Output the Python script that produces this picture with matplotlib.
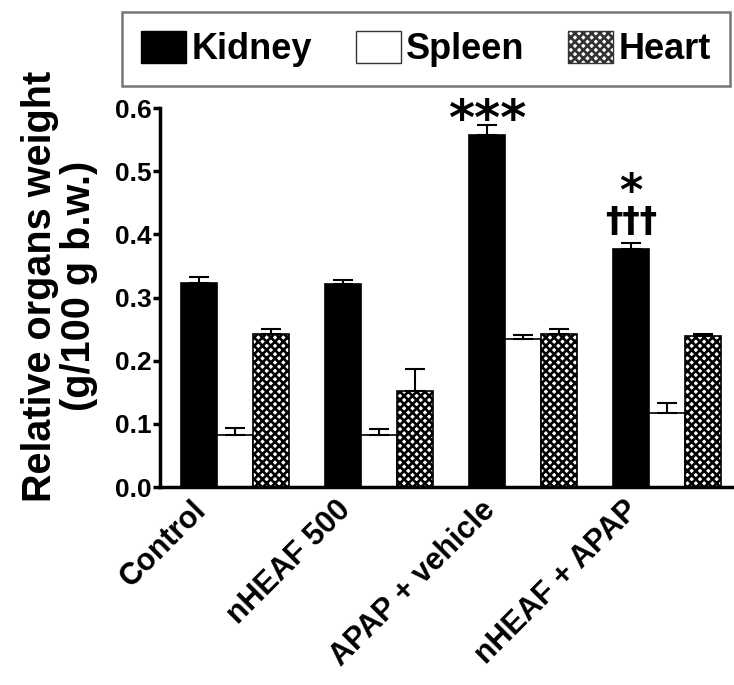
import matplotlib
matplotlib.use("Agg")
import matplotlib.pyplot as plt
import numpy as np
from matplotlib.patches import Patch

plt.rcParams['font.family'] = ['Liberation Sans', 'DejaVu Sans']
plt.rcParams['font.weight'] = 'bold'
plt.rcParams['hatch.linewidth'] = 1.9

groups = ["Control", "nHEAF 500", "APAP + vehicle", "nHEAF + APAP"]
organs = ["Kidney", "Spleen", "Heart"]

kidney = [0.323, 0.321, 0.558, 0.377]
kidney_err = [0.010, 0.007, 0.016, 0.009]
spleen = [0.082, 0.082, 0.235, 0.118]
spleen_err = [0.012, 0.010, 0.006, 0.015]
heart = [0.243, 0.152, 0.242, 0.239]
heart_err = [0.008, 0.035, 0.009, 0.004]

fig = plt.figure(figsize=(7.34, 6.85), dpi=100)
ax = fig.add_axes([0.218, 0.289, 0.782, 0.553])

x = np.arange(len(groups))
w = 0.25
err_kw = dict(ecolor="black", elinewidth=1.5, capsize=7, capthick=1.5)
zeros = np.zeros(len(groups))
checker = "xxxx"

ax.bar(x - w, kidney, w, color="black", edgecolor="black", linewidth=1.2,
       yerr=[zeros, kidney_err], error_kw=err_kw, zorder=2)
ax.bar(x, spleen, w, color="white", edgecolor="black", linewidth=1.2,
       yerr=[zeros, spleen_err], error_kw=err_kw, zorder=2)
ax.bar(x + w, heart, w, color="white", edgecolor="black", linewidth=1.2,
       hatch=checker, yerr=[zeros, heart_err], error_kw=err_kw, zorder=2)

# significance marks above the kidney bars
sym = dict(ha="center", va="baseline", fontweight="bold",
           family=["DejaVu Sans"], textcoords="offset points")
ax.annotate("***", xy=(x[2] - w, kidney[2] + kidney_err[2]), xytext=(0, -7.5),
            fontsize=36, **sym)
ax.annotate("*", xy=(x[3] - w, kidney[3] + kidney_err[3]), xytext=(0, 27.5),
            fontsize=32, **sym)
ax.annotate("†††", xy=(x[3] - w, kidney[3] + kidney_err[3]), xytext=(0, 8),
            fontsize=25, **sym)

ax.set_xlim(-0.52, 3.465)
ax.set_ylim(0, 0.6)
ax.set_yticks([0.0, 0.1, 0.2, 0.3, 0.4, 0.5, 0.6])
ax.set_yticklabels(["0.0", "0.1", "0.2", "0.3", "0.4", "0.5", "0.6"])
# rotated group labels end a little left of each group's centre
ax.set_xticks(x - 0.30)
ax.set_xticklabels(groups, rotation=45, ha="right", va="top",
                   rotation_mode="anchor", fontsize=22, fontweight="bold")
ax.tick_params(axis="x", length=0, pad=6)
ax.tick_params(axis="y", length=5, width=2.5, labelsize=19, pad=1)
for lab in ax.get_yticklabels():
    lab.set_fontweight("bold")

ax.spines["top"].set_visible(False)
ax.spines["right"].set_visible(False)
ax.spines["left"].set_linewidth(2.5)
ax.spines["bottom"].set_linewidth(2.5)

ax.set_ylabel("Relative organs weight\n(g/100 g b.w.)", fontsize=28.5,
              fontweight="bold", linespacing=1.05)
ax.yaxis.set_label_coords(-0.108, 0.53)

handles = [Patch(facecolor="black", edgecolor="black"),
           Patch(facecolor="white", edgecolor="#333333"),
           Patch(facecolor="white", edgecolor="#333333", hatch=checker)]
leg = fig.legend(handles, organs, loc="upper left", ncol=3, mode="expand",
                 bbox_to_anchor=(122 / 734, 0, 608 / 734, 1 - 12 / 685),
                 prop=dict(size=26, weight="bold"), frameon=True, fancybox=False,
                 handlelength=1.25, handleheight=1.0, handletextpad=0.15,
                 columnspacing=1.4, borderpad=0.52, borderaxespad=0)
leg.get_frame().set_edgecolor("#555555")
leg.get_frame().set_linewidth(1.8)

fig.savefig("out.png", dpi=100)
